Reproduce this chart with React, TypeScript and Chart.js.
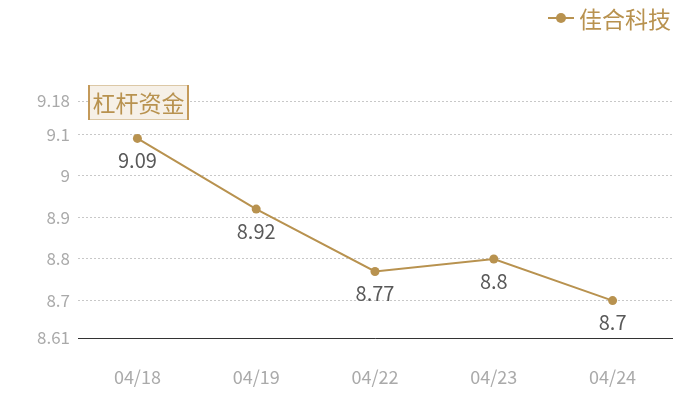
import React, { useEffect, useRef } from "react";
import { Chart, registerables } from "chart.js";

Chart.register(...registerables);

const categories = ["04/18", "04/19", "04/22", "04/23", "04/24"];
const values = [9.09, 8.92, 8.77, 8.8, 8.7];
const yTicks = [8.61, 8.7, 8.8, 8.9, 9, 9.1, 9.18];
const seriesName = "佳合科技";
const boxLabel = "杠杆资金";

const GOLD = "#b8924f";
const FONT = "'Noto Sans CJK SC', 'Noto Sans', sans-serif";

const overlayPlugin = {
  id: "overlay",
  afterDatasetsDraw(chart: any) {
    const ctx = chart.ctx;
    const area = chart.chartArea;
    const meta = chart.getDatasetMeta(0);
    ctx.save();
    // data labels
    ctx.font = `20px ${FONT}`;
    ctx.fillStyle = "#595959";
    ctx.textAlign = "center";
    ctx.textBaseline = "middle";
    meta.data.forEach((pt: any, i: number) => {
      ctx.fillText(String(values[i]), pt.x, pt.y + 22);
    });
    // legend
    const ly = 18;
    ctx.strokeStyle = GOLD;
    ctx.lineWidth = 2;
    ctx.beginPath();
    ctx.moveTo(548, ly);
    ctx.lineTo(574, ly);
    ctx.stroke();
    ctx.fillStyle = GOLD;
    ctx.beginPath();
    ctx.arc(561, ly, 5, 0, Math.PI * 2);
    ctx.fill();
    ctx.font = `23px ${FONT}`;
    ctx.textAlign = "left";
    ctx.fillText(seriesName, 579, ly + 1);
    // annotation box
    const bx = area.left + 10;
    const by = area.top - 16;
    const bw = 101;
    const bh = 35;
    ctx.fillStyle = "#f6f0e7";
    ctx.fillRect(bx, by, bw, bh);
    ctx.strokeStyle = "#dcc8a6";
    ctx.lineWidth = 1;
    ctx.strokeRect(bx + 0.5, by + 0.5, bw - 1, bh - 1);
    ctx.strokeStyle = "#c49a5a";
    ctx.lineWidth = 2;
    ctx.beginPath();
    ctx.moveTo(bx + 1, by);
    ctx.lineTo(bx + 1, by + bh);
    ctx.moveTo(bx + bw - 1, by);
    ctx.lineTo(bx + bw - 1, by + bh);
    ctx.stroke();
    ctx.fillStyle = GOLD;
    ctx.font = `23px ${FONT}`;
    ctx.textAlign = "center";
    ctx.fillText(boxLabel, bx + bw / 2, by + bh / 2 + 1);
    ctx.restore();
  },
};

export default function App() {
  const ref = useRef<HTMLCanvasElement>(null);
  useEffect(() => {
    if (!ref.current) return;
    const chart = new Chart(ref.current, {
      type: "line",
      data: {
        labels: categories,
        datasets: [
          {
            label: seriesName,
            data: values,
            borderColor: GOLD,
            backgroundColor: GOLD,
            borderWidth: 2,
            pointRadius: 4.5,
            pointBackgroundColor: GOLD,
            pointBorderWidth: 0,
            tension: 0,
          },
        ],
      },
      options: {
        animation: false,
        responsive: false,
        layout: { padding: { top: 101, right: 28, left: 0, bottom: 0 } },
        plugins: { legend: { display: false }, tooltip: { enabled: false } },
        scales: {
          x: {
            offset: true,
            grid: { display: false },
            border: { display: true, color: "#333", width: 1 },
            ticks: { color: "#aaa", font: { size: 18, family: FONT }, padding: 20 },
            afterFit(scale: any) {
              scale.height = 62;
            },
          },
          y: {
            min: 8.61,
            max: 9.18,
            afterBuildTicks(scale: any) {
              scale.ticks = yTicks.map((v) => ({ value: v }));
            },
            afterFit(scale: any) {
              scale.width = 78;
            },
            border: { display: false, dash: [2, 2] },
            grid: { color: "#c8c8c8", drawTicks: false, lineWidth: 1 },
            ticks: {
              color: "#aaa",
              font: { size: 17, family: FONT },
              padding: 8,
              callback: (v: any) => String(v),
            },
          },
        },
      },
      plugins: [overlayPlugin],
    });
    return () => chart.destroy();
  }, []);
  return (
    <div style={{ position: "fixed", left: 0, top: 0, width: 700, height: 400, background: "#fff" }}>
      <canvas ref={ref} width={700} height={400} style={{ width: 700, height: 400 }} />
    </div>
  );
}
